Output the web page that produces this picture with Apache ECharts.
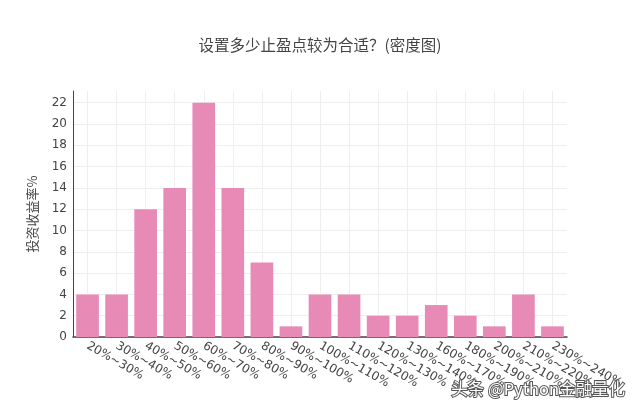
<!DOCTYPE html>
<html><head><meta charset="utf-8">
<script src="https://cdn.jsdelivr.net/npm/echarts@6/dist/echarts.min.js"></script>
<style>html,body{margin:0;padding:0;background:#fff}#c{width:640px;height:411px}</style>
</head><body><div id="c"></div>
<script>
var categories = ['20%~30%','30%~40%','40%~50%','50%~60%','60%~70%','70%~80%','80%~90%','90%~100%','100%~110%','110%~120%','120%~130%','130%~140%','160%~170%','180%~190%','200%~210%','210%~220%','230%~240%'];
var values = [4,4,12,14,22,14,7,1,4,4,2,2,3,2,1,4,1];
var titleText = '设置多少止盈点较为合适？(密度图)';
var yTitle = '投资收益率%';

// helper axis: 2n+1 points so that odd indices fall on category centres
var gridPts = [];
for (var i = 0; i <= categories.length * 2; i++) gridPts.push(String(i));

var chart = echarts.init(document.getElementById('c'));
chart.setOption({
  animation: false,
  backgroundColor: '#fff',
  title: {text: titleText, left: 'center', top: 32,
    textStyle: {fontFamily: 'Noto Sans CJK SC', fontSize: 15.5, fontWeight: 'normal', color: '#444'}},
  grid: [
    {left: 73, right: 73, top: 91, bottom: 74},
    {left: 73, right: 73, top: 102.7, bottom: 74}
  ],
  xAxis: [
    {type: 'category', data: categories, gridIndex: 0,
      axisLine: {lineStyle: {color: '#444', width: 1.5}},
      axisTick: {show: false},
      splitLine: {show: false},
      axisLabel: {rotate: -30, interval: 0, margin: 8, color: '#444', fontFamily: 'DejaVu Sans', fontSize: 12}},
    {type: 'category', data: gridPts, gridIndex: 0, boundaryGap: false, position: 'top',
      axisLine: {show: false}, axisTick: {show: false}, axisLabel: {show: false},
      splitLine: {show: true, interval: function(idx){ return idx % 2 === 1; }, lineStyle: {color: '#eee'}}},
    {type: 'category', data: categories, gridIndex: 1, show: false}
  ],
  yAxis: [
    {type: 'value', min: 0, max: 23.1, interval: 2, gridIndex: 0,
      name: yTitle, nameLocation: 'middle', nameGap: 34,
      nameTextStyle: {fontFamily: 'Noto Sans CJK SC', fontSize: 13, color: '#444'},
      axisLine: {show: true, lineStyle: {color: '#444', width: 1}},
      axisTick: {show: false},
      splitLine: {show: false},
      axisLabel: {color: '#444', fontFamily: 'DejaVu Sans', fontSize: 12, margin: 6,
        formatter: function(v){ return (v % 2 === 0) ? String(v) : ''; }}},
    {type: 'value', min: 0, max: 22, interval: 2, gridIndex: 1,
      axisLine: {show: false}, axisTick: {show: false}, axisLabel: {show: false},
      splitLine: {show: true, lineStyle: {color: '#eee'}}}
  ],
  series: [{type: 'bar', data: values, barCategoryGap: '22%', xAxisIndex: 0, yAxisIndex: 0, z: 3,
    itemStyle: {color: '#e78ab6'}}],
  graphic: [{type: 'text', right: 14, top: 379,
    style: {text: '头条 @Python金融量化', fontFamily: 'Noto Sans CJK SC', fontSize: 16.5,
      fill: '#fff', stroke: '#555', lineWidth: 2}, z: 100}]
});
</script></body></html>
